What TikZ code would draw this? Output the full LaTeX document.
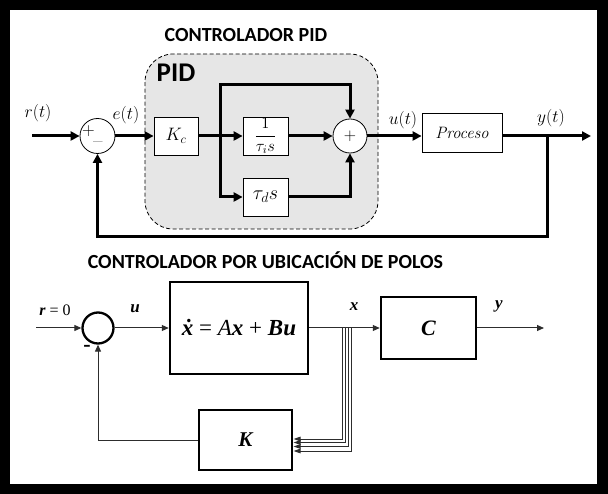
\RequirePackage{fix-cm}
\documentclass[tikz,border=0pt]{standalone}
\usepackage{amsmath}
\usepackage{fontspec}
\usetikzlibrary{arrows.meta}
\newfontfamily\carl{Carlito}
\newfontfamily\tms{Liberation Serif}
\definecolor{pidgray}{RGB}{230,230,230}
\definecolor{lngray}{RGB}{45,45,45}
\begin{document}
\begin{tikzpicture}[x=1pt,y=-1pt,
  tarr/.style={line width=3pt,-{Triangle[length=9pt,width=9pt]}},
  tblk/.style={draw,line width=0.8pt,fill=white,inner sep=0pt,font=\fontsize{18}{21}\selectfont},
  tsum/.style={circle,draw,line width=0.8pt,fill=white,minimum size=35pt,inner sep=0pt,font=\fontsize{17}{20}\selectfont},
  tlab/.style={font=\fontsize{17.5}{21}\selectfont,inner sep=0pt},
  ttitle/.style={font=\carl\bfseries\fontsize{20}{24}\selectfont,inner sep=0pt},
  bln/.style={line width=1pt,draw=lngray},
  barr/.style={bln,-{Triangle[length=7pt,width=6pt]}},
  bblk/.style={draw,line width=2.5pt,fill=white,inner sep=0pt},
  blab/.style={font=\tms\bfseries\itshape\fontsize{17}{20}\selectfont,inner sep=0pt}]

\useasboundingbox (0,0) rectangle (608,494);
\fill[black] (0,0) rectangle (608,494);
\fill[white] (10,10) rectangle (597,484);

% ---------- top: PID ----------
\node[ttitle] (t1) at (246,35) {CONTROLADOR PID};
\node[draw,dash pattern=on 4pt off 2.5pt,line width=0.8pt,rounded corners=28pt,fill=pidgray,
      minimum width=233pt,minimum height=175pt,inner sep=0pt] (pidbox) at (261.5,141.5) {};
\node[font=\carl\bfseries\fontsize{27}{30}\selectfont,inner sep=0pt] (pidl) at (176,73) {PID};

\node[tsum] (s1) at (97.5,136) {};
\node[tlab] (s1p) at (88.5,131) {$+$};
\node[tlab,font=\fontsize{13}{15}\selectfont] (s1m) at (98,141) {\_};
\node[tblk,minimum width=44pt,minimum height=38pt] (kc) at (176,136) {$K_c$};
\node[tblk,minimum width=45pt,minimum height=38pt,font=\fontsize{16.5}{19}\selectfont] (ti) at (265.5,136) {$\dfrac{1}{\tau_i s}$};
\node[tblk,minimum width=45pt,minimum height=38pt,font=\fontsize{20}{23}\selectfont] (td) at (265.5,197) {$\tau_d s$};
\node[tsum,minimum size=34pt] (s2) at (350,136) {$+$};
\node[tblk,minimum width=80pt,minimum height=39pt,font=\fontsize{16.5}{20}\selectfont] (proc) at (462,132.5) {\textit{Proceso}};

\node[tlab] (lr) at (38,113) {$r(t)$};
\node[tlab] (le) at (126,115) {$e(t)$};
\node[tlab] (lu) at (403,120) {$u(t)$};
\node[tlab] (ly) at (551,118) {$y(t)$};

\coordinate (in) at (32,136);
\coordinate (br) at (220,136);
\coordinate (topc) at (350,85);
\coordinate (yb) at (547,136);
\coordinate (fb) at (547,237);
\coordinate (out) at (591,136);

\draw[tarr] (in) -- (s1);
\draw[tarr] (s1) -- (kc);
\draw[tarr] (kc) -- (ti);
\draw[tarr] (br) |- (td);
\draw[tarr] (br) |- (topc) -- (s2);
\draw[tarr] (ti) -- (s2);
\draw[tarr] (td) -| (s2);
\draw[tarr] (s2) -- (s2 -| proc.west);
\draw[tarr] (proc.east |- s2) -- (out);
\draw[tarr] (yb) -- (fb) -| (s1);

% ---------- bottom: pole placement ----------
\node[ttitle] (t2) at (265.5,260) {CONTROLADOR POR UBICACIÓN DE POLOS};

\node[circle,draw,line width=2.3pt,minimum size=31pt,inner sep=0pt] (bs) at (98,328) {};
\node[bblk,minimum width=138pt,minimum height=92pt,font=\tms\fontsize{23}{27}\selectfont] (sys) at (239,328)
   {\textbf{\textit{\.{x}}} = \textit{A}\textbf{\textit{x}} + \textbf{\textit{Bu}}};
\node[bblk,minimum width=95pt,minimum height=62pt,font=\tms\bfseries\itshape\fontsize{22}{26}\selectfont] (cb) at (428.5,328) {C};
\node[bblk,minimum width=93pt,minimum height=60pt,font=\tms\bfseries\itshape\fontsize{21}{25}\selectfont] (kb) at (245.5,440) {K};

\node[inner sep=0pt,font=\tms\fontsize{16}{19}\selectfont] (lr0) at (55,310) {\textbf{\textit{r}} = 0};
\node[inner sep=0pt,font=\tms\bfseries\fontsize{22}{26}\selectfont] (lminus) at (87,348) {-};
\node[blab] (lbu) at (135,309) {u};
\node[blab] (lbx) at (354,307) {x};
\node[blab] (lby) at (499,306) {y};

\coordinate (bin) at (36,328);
\coordinate (bout) at (544,328);

\draw[barr] (bin) -- (bs);
\draw[barr] (bs) -- (sys);
\draw[barr] (sys) -- (cb);
\draw[barr] (cb) -- (bout);
\draw[barr] (kb) -| (bs);
\foreach \xx/\yy/\i in {342/439/1,345/442.5/2,348/446.5/3,351.5/451/4}{
  \coordinate (xb\i) at (\xx,328);
  \coordinate (kin\i) at (293.5,\yy);
  \draw[barr,-{Triangle[length=7pt,width=4.5pt]}] (xb\i) |- (kin\i);
}
\end{tikzpicture}
\end{document}
